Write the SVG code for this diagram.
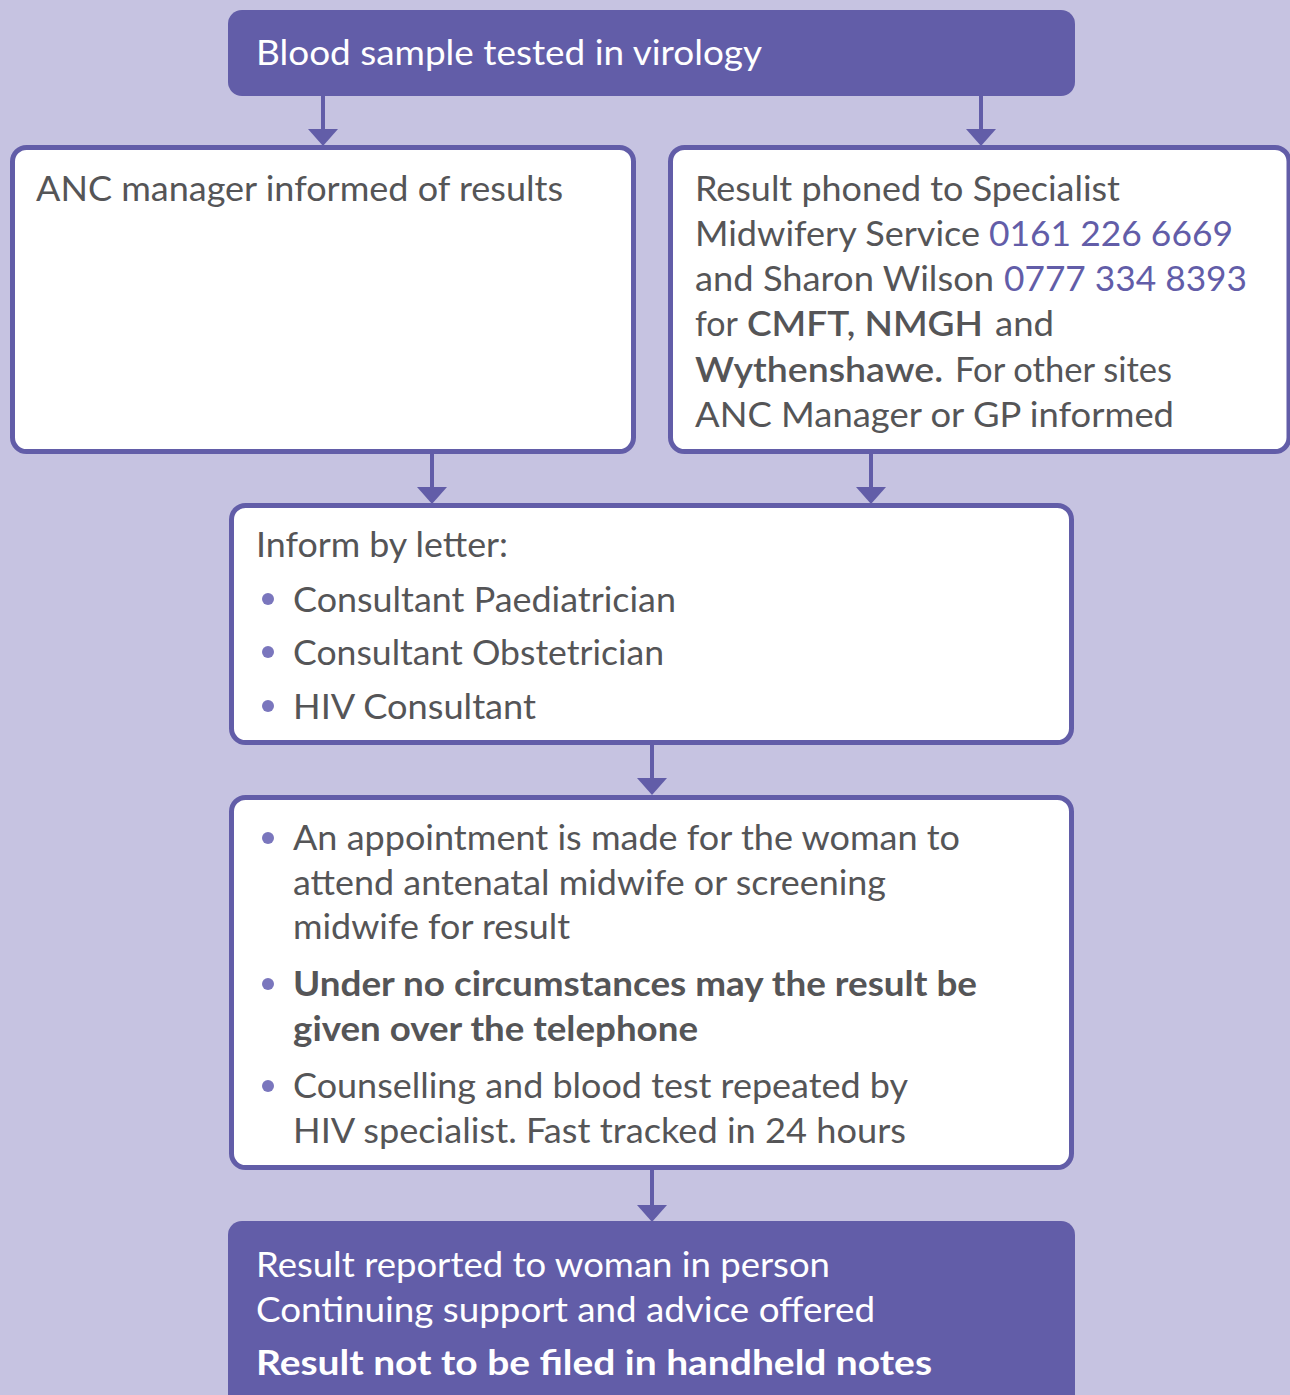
<svg xmlns="http://www.w3.org/2000/svg" width="1290" height="1395" viewBox="0 0 1290 1395">
<defs>
<style>
.t{font-family:"Lato","Open Sans","Liberation Sans",sans-serif;font-size:34px;fill:#555557}
.w{fill:#ffffff}
.b{font-weight:bold}
.sb{font-weight:600}
.p{fill:#625da8}
.box{fill:#ffffff;stroke:#625da8;stroke-width:5}
.dark{fill:#625da8}
.dot{fill:#7a76bd}
.con{stroke:#625da8;stroke-width:4;fill:none}
</style>
<marker id="ah" viewBox="0 0 17 30" refX="0" refY="15" markerWidth="17" markerHeight="30" markerUnits="userSpaceOnUse" orient="auto">
<path d="M0,0 L17,15 L0,30 z" fill="#625da8"/>
</marker>
</defs>
<rect x="0" y="0" width="1290" height="1395" fill="#c6c3e1"/>

<g id="connectors">
<line class="con" x1="323" y1="96" x2="323" y2="129" marker-end="url(#ah)"/>
<line class="con" x1="981" y1="96" x2="981" y2="129" marker-end="url(#ah)"/>
<line class="con" x1="432" y1="454" x2="432" y2="487" marker-end="url(#ah)"/>
<line class="con" x1="871" y1="454" x2="871" y2="487" marker-end="url(#ah)"/>
<line class="con" x1="652" y1="745" x2="652" y2="778" marker-end="url(#ah)"/>
<line class="con" x1="652" y1="1170" x2="652" y2="1205" marker-end="url(#ah)"/>
</g>

<g id="n-virology">
<rect class="dark" x="228" y="10" width="847" height="86" rx="14"/>
<text class="t w" font-size="36" x="256" y="65" textLength="506" lengthAdjust="spacingAndGlyphs">Blood sample tested in virology</text>
</g>

<g id="n-anc">
<rect class="box" x="12.5" y="147.5" width="621" height="304" rx="14"/>
<text class="t" x="36" y="201" textLength="527" lengthAdjust="spacingAndGlyphs">ANC manager informed of results</text>
</g>

<g id="n-phoned">
<rect class="box" x="670.5" y="147.5" width="618.5" height="304" rx="14"/>
<text class="t" x="695" y="201" textLength="425" lengthAdjust="spacingAndGlyphs">Result phoned to Specialist</text>
<text class="t" x="695" y="246" textLength="285" lengthAdjust="spacingAndGlyphs">Midwifery Service</text>
<text class="t p" x="989" y="246" textLength="244" lengthAdjust="spacingAndGlyphs">0161 226 6669</text>
<text class="t" x="695" y="291" textLength="299" lengthAdjust="spacingAndGlyphs">and Sharon Wilson</text>
<text class="t p" x="1004" y="291" textLength="243" lengthAdjust="spacingAndGlyphs">0777 334 8393</text>
<text class="t" x="695" y="336" textLength="43" lengthAdjust="spacingAndGlyphs">for</text>
<text class="t sb" x="747" y="336" textLength="236" lengthAdjust="spacingAndGlyphs">CMFT, NMGH</text>
<text class="t" x="995" y="336" textLength="59" lengthAdjust="spacingAndGlyphs">and</text>
<text class="t sb" x="695" y="382" textLength="248" lengthAdjust="spacingAndGlyphs">Wythenshawe.</text>
<text class="t" x="955" y="382" textLength="217" lengthAdjust="spacingAndGlyphs">For other sites</text>
<text class="t" x="695" y="427" textLength="479" lengthAdjust="spacingAndGlyphs">ANC Manager or GP informed</text>
</g>

<g id="n-letter">
<rect class="box" x="231.5" y="505.5" width="840" height="237" rx="14"/>
<text class="t" x="256" y="557" textLength="252" lengthAdjust="spacingAndGlyphs">Inform by letter:</text>
<circle class="dot" cx="268" cy="599" r="6"/>
<text class="t" x="293" y="612" textLength="383" lengthAdjust="spacingAndGlyphs">Consultant Paediatrician</text>
<circle class="dot" cx="268" cy="652" r="6"/>
<text class="t" x="293" y="665" textLength="371" lengthAdjust="spacingAndGlyphs">Consultant Obstetrician</text>
<circle class="dot" cx="268" cy="706" r="6"/>
<text class="t" x="293" y="719" textLength="243" lengthAdjust="spacingAndGlyphs">HIV Consultant</text>
</g>

<g id="n-appointment">
<rect class="box" x="231.5" y="797.5" width="840" height="370" rx="14"/>
<circle class="dot" cx="268" cy="838" r="6"/>
<text class="t" x="293" y="850" textLength="667" lengthAdjust="spacingAndGlyphs">An appointment is made for the woman to</text>
<text class="t" x="293" y="895" textLength="593" lengthAdjust="spacingAndGlyphs">attend antenatal midwife or screening</text>
<text class="t" x="293" y="939" textLength="277" lengthAdjust="spacingAndGlyphs">midwife for result</text>
<circle class="dot" cx="268" cy="984" r="6"/>
<text class="t b" x="293" y="996" textLength="684" lengthAdjust="spacingAndGlyphs">Under no circumstances may the result be</text>
<text class="t b" x="293" y="1041" textLength="405" lengthAdjust="spacingAndGlyphs">given over the telephone</text>
<circle class="dot" cx="268" cy="1086" r="6"/>
<text class="t" x="293" y="1098" textLength="615" lengthAdjust="spacingAndGlyphs">Counselling and blood test repeated by</text>
<text class="t" x="293" y="1143" textLength="613" lengthAdjust="spacingAndGlyphs">HIV specialist. Fast tracked in 24 hours</text>
</g>

<g id="n-reported">
<rect class="dark" x="228" y="1221" width="847" height="190" rx="14"/>
<text class="t w" x="256" y="1277" textLength="574" lengthAdjust="spacingAndGlyphs">Result reported to woman in person</text>
<text class="t w" x="256" y="1322" textLength="619" lengthAdjust="spacingAndGlyphs">Continuing support and advice offered</text>
<text class="t w b" x="256" y="1375" textLength="676" lengthAdjust="spacingAndGlyphs">Result not to be filed in handheld notes</text>
</g>
</svg>
